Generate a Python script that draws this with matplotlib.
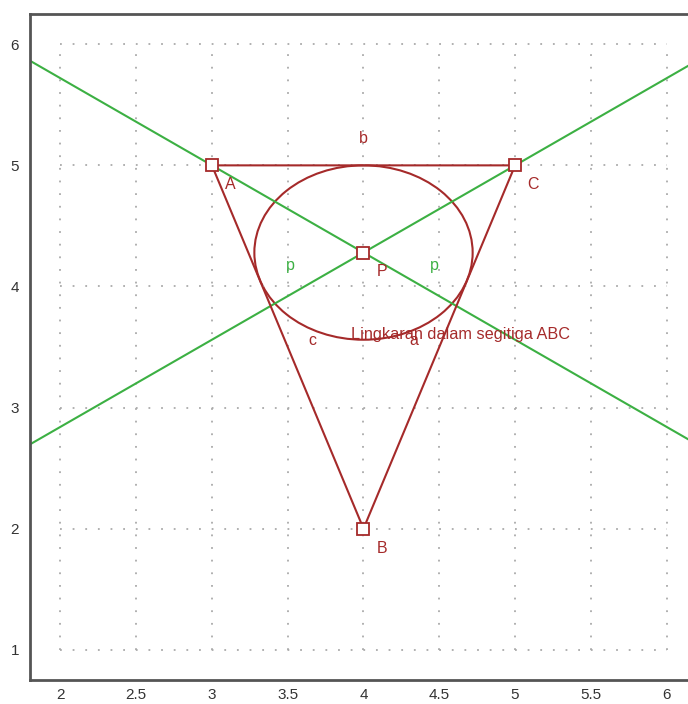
import numpy as np
import matplotlib.pyplot as plt
from matplotlib.patches import Ellipse

plt.rcParams['font.family'] = ['Liberation Sans', 'DejaVu Sans']

red = '#a52a2a'
green = '#3cb043'

# triangle vertices and incenter
names = ['A', 'B', 'C']
px = [3, 4, 5]
py = [5, 2, 5]
P = (4, 4.28)
r = 0.72

# label positions
vlabels = ['A', 'B', 'C', 'P']
vlx = [3.12, 4.12, 5.12, 4.12]
vly = [4.84, 1.84, 4.84, 4.12]
side_labels = ['b', 'c', 'a']
slx = [4.0, 3.66, 4.33]
sly = [5.22, 3.55, 3.55]
p_lx = [3.52, 4.47]
p_ly = [4.17, 4.17]

xticks = [2, 2.5, 3, 3.5, 4, 4.5, 5, 5.5, 6]
yticks = [1, 2, 3, 4, 5, 6]

fig = plt.figure(figsize=(6.88, 7.04), dpi=100)
ax = fig.add_axes([30/688, 24/704, 667/688, 666/704])
ax.set_xlim(1.8, 6.2)
ax.set_ylim(0.75, 6.25)

# dotted grid limited to the tick range
for xv in xticks:
    ax.plot([xv, xv], [yticks[0], yticks[-1]], ls=(0, (1, 6)), color='#aaaaaa', lw=1.3)
for yv in yticks:
    ax.plot([xticks[0], xticks[-1]], [yv, yv], ls=(0, (1, 6)), color='#aaaaaa', lw=1.3)

# bisectors
ax.axline((px[0], py[0]), P, color=green, lw=1.5)
ax.axline((px[2], py[2]), P, color=green, lw=1.5)

# triangle
ax.plot(px + [px[0]], py + [py[0]], color=red, lw=1.5)
ax.add_patch(Ellipse(P, 2*r, 2*r, fill=False, edgecolor=red, lw=1.5))
ax.plot(px + [P[0]], py + [P[1]], ls='none', marker='s', ms=8, mfc='white',
        mec=red, mew=1.3)

for t, x, y in zip(vlabels, vlx, vly):
    ax.text(x, y, t, color=red, fontsize=11.5, ha='center', va='center')
for t, x, y in zip(side_labels, slx, sly):
    ax.text(x, y, t, color=red, fontsize=11.5, ha='center', va='center')
for x, y in zip(p_lx, p_ly):
    ax.text(x, y, 'p', color=green, fontsize=11.5, ha='center', va='center')
ax.text(3.915, 3.60, 'Lingkaran dalam segitiga ABC', color=red, fontsize=11.7,
        ha='left', va='center')

ax.set_xticks(xticks)
ax.set_xticklabels(['2', '2.5', '3', '3.5', '4', '4.5', '5', '5.5', '6'])
ax.set_yticks(yticks)
ax.tick_params(axis='x', length=0, labelsize=11, labelcolor='#333333', pad=6)
ax.tick_params(axis='y', length=0, labelsize=11, labelcolor='#333333', pad=8)
for s in ax.spines.values():
    s.set_color('#555555')
    s.set_linewidth(2)

fig.savefig('out.png', dpi=100)
